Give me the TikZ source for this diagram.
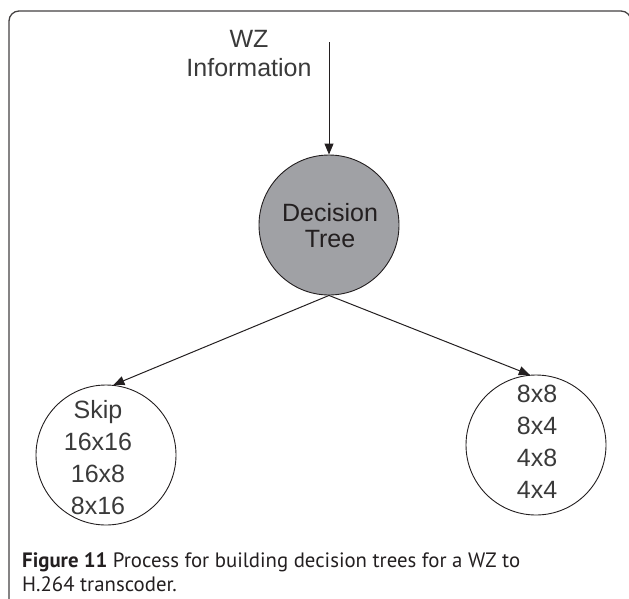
\documentclass[tikz,border=0pt]{standalone}
\usepackage{fontspec}
\setmainfont{Liberation Sans}
\newfontfamily\capfont{PT Sans}
\usetikzlibrary{arrows.meta}
\definecolor{ink}{HTML}{231F20}
\definecolor{txt}{HTML}{3A3A3A}
\definecolor{treegray}{HTML}{A0A1A5}
\begin{document}
\begin{tikzpicture}[x=1pt,y=-1pt,
  conn/.style={draw=ink,line width=1pt,-{Triangle[length=11pt,width=9pt]}},
  ring/.style={circle,draw=ink,line width=0.9pt,minimum size=140pt,inner sep=0pt},
  label text/.style={text=txt,align=center,inner sep=0pt,font=\fontsize{25}{32}\selectfont},
  caption text/.style={anchor=base west,inner sep=0pt,text=ink,font=\capfont\fontsize{20.8}{24}\selectfont}]
\useasboundingbox (0,0) rectangle (629,598);
% outer frame
\draw[ink!85,line width=1.3pt,rounded corners=10pt] (9,620) -- (9,11) -- (631,11) -- (631,620);
% input label and decision node
\node[label text,font=\fontsize{25}{29}\selectfont] (src) at (249,54) {WZ\\Information};
\coordinate (feed) at (329,42);
\node[ring,fill=treegray] (dt) at (329,225) {};
\node[label text,font=\fontsize{25}{26}\selectfont,text=ink] (dtt) at (330,226) {Decision\\Tree};
% leaf nodes
\node[ring] (lc) at (106,455) {};
\node[label text] (lt) at (98,458) {Skip\\16x16\\16x8\\8x16};
\node[ring] (rc) at (536,445) {};
\node[label text] (rt) at (537,442) {8x8\\8x4\\4x8\\4x4};
% connectors
\draw[conn] (feed) -- (dt.north);
\draw[conn] (dt.south) -- (lc.84);
\draw[conn] (dt.south) -- (rc.95);
% caption, two lines
\node[caption text] (cap1) at (22,567) {\textbf{Figure 11} Process for building decision trees for a WZ to};
\node[caption text] (cap2) at (22,591) {H.264 transcoder.};
\end{tikzpicture}
\end{document}
